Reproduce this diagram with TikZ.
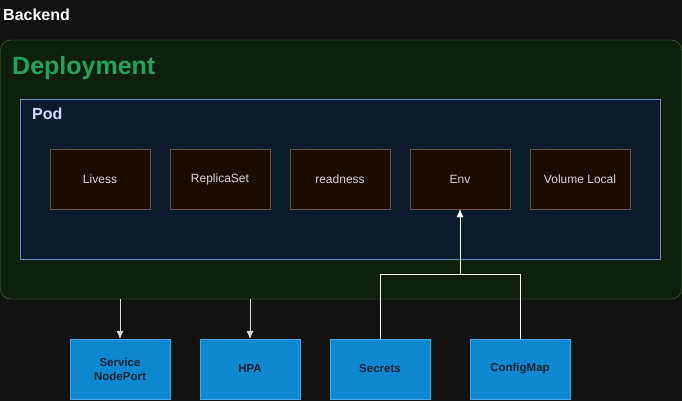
\documentclass[tikz,border=0pt]{standalone}
\usepackage{fontspec}
\setmainfont{Liberation Sans}
\usepackage{tikz}
\usetikzlibrary{positioning}
\usetikzlibrary{arrows.meta}
\definecolor{bgdark}{HTML}{121212}
\definecolor{depfill}{HTML}{0F1F0E}
\definecolor{depline}{HTML}{4C7A2C}
\definecolor{deptext}{HTML}{21A35E}
\definecolor{podfill}{HTML}{0C1A2E}
\definecolor{podline}{HTML}{6C8EBF}
\definecolor{podtext}{HTML}{D4DAFF}
\definecolor{itemfill}{HTML}{1A0D00}
\definecolor{itemline}{HTML}{6B5535}
\definecolor{itemtext}{HTML}{D6D6D6}
\definecolor{resfill}{HTML}{0E88CF}
\definecolor{resline}{HTML}{44A6E6}
\definecolor{restext}{HTML}{0F2238}
\tikzset{
    item/.style={draw=itemline, fill=itemfill, text=itemtext, minimum width=100pt, minimum height=60pt, font=\fontsize{12}{14}\selectfont, inner sep=0pt},
    res/.style={draw=resline, fill=resfill, text=restext, minimum width=100pt, minimum height=60pt, font=\fontsize{11.5}{14}\selectfont\bfseries, align=center, inner sep=0pt},
    heading/.style={anchor=base west, inner sep=0pt, font=\bfseries},
    link/.style={draw=white, -{Latex[length=8pt,width=7pt]}},
}

\begin{document}
\begin{tikzpicture}[x=1pt, y=-1pt]
    \fill[bgdark] (0,0) rectangle (682,401);
    \useasboundingbox (0,0) rectangle (682,401);
    \node[heading, text=white, font=\fontsize{16}{18}\selectfont\bfseries] (title) at (3,21) {Backend};
    % deployment and pod
    \draw[draw=depline, fill=depfill, rounded corners=10pt] (0.5,40) rectangle (681.5,299);
    \node[heading, text=deptext, font=\fontsize{25}{27}\selectfont\bfseries] (dep) at (12,75) {Deployment};
    \draw[draw=podline, fill=podfill] (20,99) rectangle (660,259);
    \node[heading, text=podtext, font=\fontsize{16}{18}\selectfont\bfseries] (pod) at (32,120) {Pod};
    \coordinate (depS) at (120,299);
    \coordinate (depH) at (250,299);
    \coordinate (join) at (460,274);
    % pod items
    \node[item] (liv) at (100,179) {Livess};
    \node[item] (rs) at (220,179) {ReplicaSet};
    \node[item] (ready) at (340,179) {readness};
    \node[item] (env) at (460,179) {Env};
    \node[item] (vol) at (580,179) {Volume Local};
    % resources below
    \node[res] (svc) at (120,369) {Service\\NodePort};
    \node[res] (hpa) at (250,369) {HPA};
    \node[res] (sec) at (380,369) {Secrets};
    \node[res] (cfg) at (520,369) {ConfigMap};
    \draw[link, draw=white!85!black] (depS) -- (svc.north);
    \draw[link, draw=white!85!black] (depH) -- (hpa.north);
    \draw[draw=white] (sec.north) |- (join);
    \draw[draw=white] (cfg.north) |- (join);
    \draw[link] (join) -- (env.south);
\end{tikzpicture}
\end{document}
